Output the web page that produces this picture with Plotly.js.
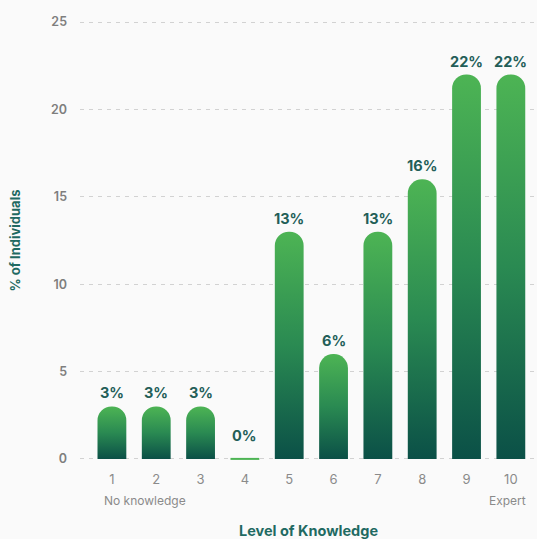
<!DOCTYPE html>
<html>
<head>
<meta charset="utf-8">
<script src="https://cdn.plot.ly/plotly-3.0.1.min.js"></script>
<style>
  html, body { margin: 0; padding: 0; background: #fafafa; }
  #chart { width: 537px; height: 539px; }
</style>
</head>
<body>
<div id="chart"></div>
<script>
// Self-rated level of knowledge, share of respondents per level
const levels = ['1', '2', '3', '4', '5', '6', '7', '8', '9', '10'];
const shares = [3, 3, 3, 0, 13, 6, 13, 16, 22, 22];
const yTicks = [0, 5, 10, 15, 20, 25];

const TEAL = '#235e58';
const TITLE_TEAL = '#1f6a62';
const TOP_GREEN = '#4db454';
const BASE_TEAL = '#0b5047';
const GREY = '#8a8a8a';
const BAR_W = 0.65;
const FONT = 'Inter, Roboto, sans-serif';

const bars = {
  type: 'bar',
  x: levels,
  y: shares,
  width: BAR_W,
  marker: { color: TOP_GREEN, cornerradius: '50%', line: { width: 0 } },
  hoverinfo: 'x+y'
};

// value labels above each bar (category axis: position by index)
const labels = levels.map((lv, i) => ({
  x: i, y: shares[i], xref: 'x', yref: 'y',
  text: shares[i] + '%', showarrow: false,
  yanchor: 'bottom', yshift: shares[i] === 0 ? 13 : 3,
  font: { family: FONT, size: 14.5, color: TEAL, weight: 700 }
}));

// scale end captions under the first and last level
labels.push({
  x: 0, y: 0, xref: 'x', yref: 'paper', yanchor: 'middle', yshift: -39,
  xanchor: 'left', xshift: -10,
  text: 'No knowledge', showarrow: false,
  font: { family: FONT, size: 12, color: GREY }
});
labels.push({
  x: levels.length - 1, y: 0, xref: 'x', yref: 'paper', yanchor: 'middle', yshift: -39,
  xanchor: 'right', xshift: 17,
  text: 'Expert', showarrow: false,
  font: { family: FONT, size: 12, color: GREY }
});

// a bar of height zero still shows as a thin strip on the baseline
const zeroStrips = levels
  .map((lv, i) => ({ v: shares[i], i }))
  .filter(d => d.v === 0)
  .map(d => ({
    type: 'line', xref: 'x', yref: 'y',
    x0: d.i - BAR_W / 2, x1: d.i + BAR_W / 2, y0: d.v, y1: d.v,
    line: { color: TOP_GREEN, width: 2 }
  }));

const layout = {
  width: 537, height: 539,
  paper_bgcolor: '#fafafa', plot_bgcolor: '#fafafa',
  margin: { l: 80, r: 0, t: 20, b: 78 },
  showlegend: false,
  bargap: 0.35,
  font: { family: FONT, color: GREY },
  xaxis: {
    type: 'category',
    range: [-0.72, 9.59],
    showgrid: false, zeroline: false, showline: false,
    ticks: '', ticklabelstandoff: 9,
    tickfont: { size: 13, color: GREY },
    title: {
      text: 'Level of Knowledge', standoff: 40,
      font: { size: 14.5, color: TITLE_TEAL, weight: 700 }
    }
  },
  yaxis: {
    range: [-0.12, 25.12],
    tickvals: yTicks,
    showgrid: true, gridcolor: '#d2d2d2', gridwidth: 1, griddash: '4px,5px',
    zeroline: false, showline: false,
    ticks: '', ticklabelstandoff: 12,
    tickfont: { size: 12.5, color: '#7e7e7e', weight: 600 },
    title: {
      text: '% of Individuals', standoff: 27,
      font: { size: 13, color: TITLE_TEAL, weight: 700 }
    }
  },
  annotations: labels,
  shapes: zeroStrips
};

// vertical fade from green at the top of each bar to deep teal at its base
function applyGradient(gd) {
  const svg = gd.querySelector('.main-svg');
  if (!svg) return;
  const ns = 'http://www.w3.org/2000/svg';
  let defs = svg.querySelector('defs');
  if (!defs) { defs = document.createElementNS(ns, 'defs'); svg.insertBefore(defs, svg.firstChild); }
  if (!svg.querySelector('#barFade')) {
    const g = document.createElementNS(ns, 'linearGradient');
    g.setAttribute('id', 'barFade');
    g.setAttribute('x1', '0'); g.setAttribute('y1', '0');
    g.setAttribute('x2', '0'); g.setAttribute('y2', '1');
    [['0', TOP_GREEN], ['0.5', '#2a8a52'], ['1', BASE_TEAL]].forEach(([o, c]) => {
      const s = document.createElementNS(ns, 'stop');
      s.setAttribute('offset', o); s.setAttribute('stop-color', c);
      g.appendChild(s);
    });
    defs.appendChild(g);
  }
  gd.querySelectorAll('.barlayer .point path').forEach(p => {
    p.style.fill = 'url(#barFade)';
  });
}

const gd = document.getElementById('chart');
Plotly.newPlot(gd, [bars], layout, { displayModeBar: false, staticPlot: true }).then(() => {
  applyGradient(gd);
  gd.on('plotly_afterplot', () => applyGradient(gd));
});
</script>
</body>
</html>
